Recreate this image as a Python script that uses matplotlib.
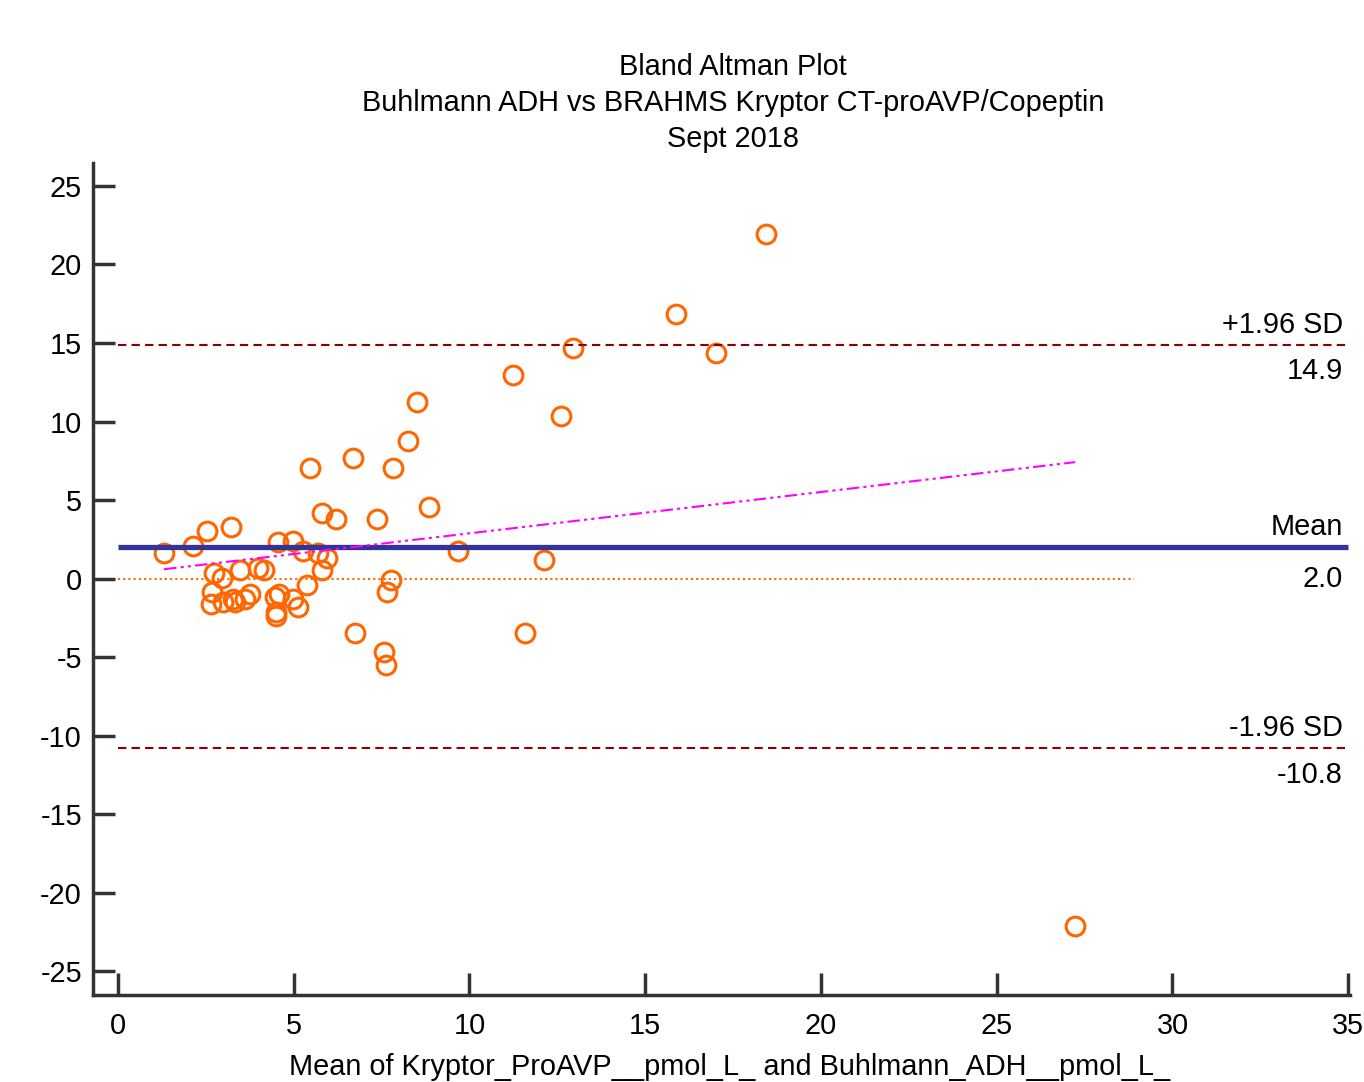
import matplotlib
matplotlib.use("Agg")
import matplotlib.pyplot as plt
import numpy as np

plt.rcParams['font.family'] = ['Liberation Sans', 'DejaVu Sans']
plt.rcParams['axes.unicode_minus'] = False

mean_x = [1.31, 2.13, 2.53, 3.22, 2.73, 2.96, 3.47, 3.98, 4.15, 2.67, 2.65, 2.99, 3.27, 3.33,
          3.61, 3.76, 4.47, 4.58, 4.98, 5.12, 4.50, 4.50, 4.55, 4.98, 5.26, 5.69, 5.95, 5.80,
          5.38, 5.46, 5.80, 6.20, 6.69, 7.37, 7.83, 8.25, 8.51, 8.85, 9.67, 7.77, 7.65, 6.74,
          7.57, 7.63, 11.24, 12.61, 12.95, 11.58, 12.12, 15.88, 17.02, 18.44, 27.23]
diff_y = [1.62, 2.07, 3.03, 3.28, 0.35, 0.03, 0.54, 0.67, 0.54, -0.86, -1.62, -1.50, -1.31, -1.50,
          -1.31, -0.99, -1.18, -0.99, -1.31, -1.82, -2.13, -2.39, 2.32, 2.39, 1.75, 1.62, 1.31, 0.54,
          -0.41, 7.04, 4.20, 3.79, 7.68, 3.79, 7.04, 8.76, 11.24, 4.55, 1.75, -0.10, -0.86, -3.47,
          -4.68, -5.51, 12.96, 10.35, 14.68, -3.47, 1.18, 16.85, 14.36, 21.94, -22.13]

mean_diff = 2.0
upper_loa = 14.9
lower_loa = -10.8
reg_intercept = 0.257
reg_slope = 0.263
zero_line_end = 28.9

title_lines = ["Bland Altman Plot", "Buhlmann ADH vs BRAHMS Kryptor CT-proAVP/Copeptin", "Sept 2018"]
xlabel = "Mean of Kryptor_ProAVP__pmol_L_ and Buhlmann_ADH__pmol_L_"
x_ticks = [0, 5, 10, 15, 20, 25, 30, 35]
y_ticks = [-25, -20, -15, -10, -5, 0, 5, 10, 15, 20, 25]

fig = plt.figure(figsize=(13.64, 10.82), dpi=100)
ax = fig.add_axes([93/1364, 1-995/1082, (1350-93)/1364, (995-163)/1082])
ax.set_xlim(-0.71, 35.05)
ax.set_ylim(-26.5, 26.46)

ax.plot(mean_x, diff_y, linestyle='none', marker='o', markersize=13.5,
        markerfacecolor='none', markeredgecolor='#FF6600', markeredgewidth=2.2, zorder=2)

ax.plot([0, 35], [mean_diff, mean_diff], color='#333399', lw=3.8, zorder=3, solid_capstyle='butt')
ax.plot([0, 35], [upper_loa, upper_loa], color='#8B0000', lw=1.5, ls=(0, (4, 2.5)), zorder=3)
ax.plot([0, 35], [lower_loa, lower_loa], color='#8B0000', lw=1.5, ls=(0, (4, 2.5)), zorder=3)
ax.plot([0, zero_line_end], [0, 0], color='#FF6600', lw=1.5, ls=(0, (1, 1.5)), zorder=3)
xr = np.array([min(mean_x), max(mean_x)])
ax.plot(xr, reg_intercept + reg_slope * xr, color='#FF00FF', lw=1.5,
        ls=(0, (6, 2, 1.5, 2, 1.5, 2)), zorder=3)

fs = 20.8
xt = 34.85

def lab(y, text, dy):
    ax.annotate(text, xy=(xt, y), xytext=(0, dy), textcoords='offset pixels',
                ha='right', va='center', fontsize=fs)

lab(upper_loa, "+1.96 SD", 20)
lab(upper_loa, f"{upper_loa:.1f}", -26)
lab(mean_diff, "Mean", 20)
lab(mean_diff, f"{mean_diff:.1f}", -32)
lab(lower_loa, "-1.96 SD", 20)
lab(lower_loa, f"{lower_loa:.1f}", -27)

for s in ['top', 'right']:
    ax.spines[s].set_visible(False)
for s in ['left', 'bottom']:
    ax.spines[s].set_color('#333333')
    ax.spines[s].set_linewidth(2.5)

ax.set_xticks(x_ticks)
ax.set_yticks(y_ticks)
ax.tick_params(axis='both', direction='in', length=16, width=2.5, color='#333333',
               labelsize=fs, labelcolor='black')
ax.tick_params(axis='x', pad=12)
ax.tick_params(axis='y', pad=8)

fig.text(733/1364, 1-67/1082, title_lines[0], ha='center', va='center', fontsize=fs)
fig.text(733/1364, 1-103/1082, title_lines[1], ha='center', va='center', fontsize=fs)
fig.text(733/1364, 1-139/1082, title_lines[2], ha='center', va='center', fontsize=fs)
fig.text(730/1364, 1-1067/1082, xlabel, ha='center', va='center', fontsize=fs)

fig.savefig("out.png", dpi=100)
